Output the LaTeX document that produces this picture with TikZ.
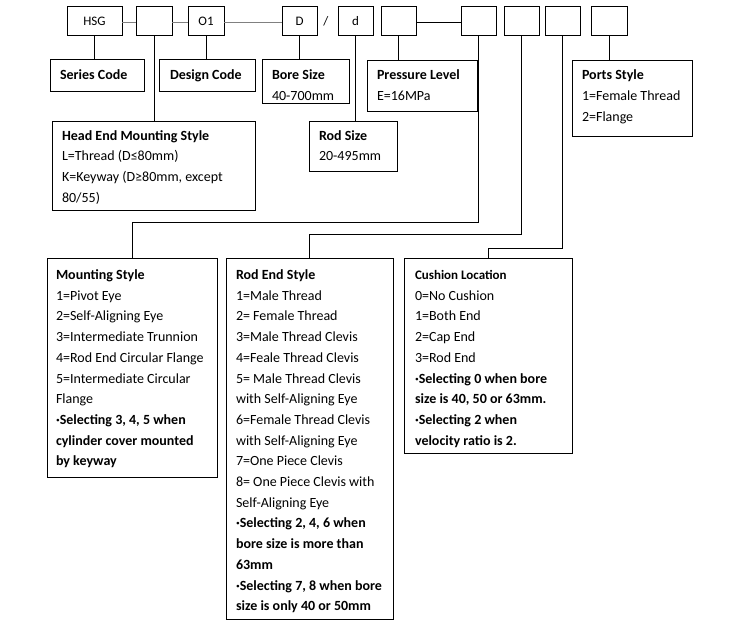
\documentclass[tikz,border=0pt]{standalone}
\usepackage{fontspec}
\setmainfont{Carlito}
\newcommand{\mylines}[1]{\begin{tabular}[t]{@{}l@{}}#1\end{tabular}}
\begin{document}
\begin{tikzpicture}[x=1pt,y=-1pt,
  bx/.style={draw=black, line width=1pt, anchor=north west, inner sep=0pt, outer sep=0pt, minimum height=29pt},
  code/.style={font=\fontsize{13}{15}\selectfont},
  txt/.style={anchor=base west, inner sep=0pt, outer sep=0pt, font=\fontsize{14}{20.7}\selectfont},
  gline/.style={draw=black!50, line width=1.8pt},
  conn/.style={draw=black, line width=1pt}]
\useasboundingbox[fill=white] (0,0) rectangle (752,642);

% top code row
\node[bx, code, minimum width=55pt] (hsg) at (67,7) {HSG};
\node[bx, code, minimum width=36pt] (b1) at (136,7) {};
\node[bx, code, minimum width=36pt] (o1) at (188,7) {O1};
\node[bx, code, minimum width=35pt] (bd) at (282,7) {D};
\node[code] (slash) at (326,21.5) {/};
\node[bx, code, minimum width=35pt] (sd) at (338,7) {d};
\node[bx, code, minimum width=35pt] (pb) at (381,7) {};
\node[bx, code, minimum width=35pt] (m1) at (461,7) {};
\node[bx, code, minimum width=35pt] (m2) at (504,7) {};
\node[bx, code, minimum width=35pt] (m3) at (545,7) {};
\node[bx, code, minimum width=36pt] (pt) at (591,7) {};

\draw[gline] ([yshift=-1pt]hsg.east) -- ([yshift=-1pt]b1.west);
\draw[gline] ([yshift=-1pt]b1.east) -- ([yshift=-1pt]o1.west);
\draw[gline] ([yshift=-1pt]o1.east) -- ([yshift=-1pt]bd.west);
\draw[conn] ([yshift=-1.5pt]pb.east) -- ([yshift=-1.5pt]m1.west);

% description boxes
\node[bx, minimum width=94pt, minimum height=31pt] (series) at (50,60) {};
\node[bx, minimum width=96pt, minimum height=31pt] (design) at (159,60) {};
\node[bx, minimum width=87pt, minimum height=43pt] (bore) at (262,60) {};
\node[bx, minimum width=110pt, minimum height=50pt] (press) at (367,61) {};
\node[bx, minimum width=120pt, minimum height=75pt] (ports) at (572,61) {};
\node[bx, minimum width=88pt, minimum height=50pt] (rodsize) at (309,121) {};
\node[bx, minimum width=203pt, minimum height=89pt] (head) at (52,121) {};
\node[bx, minimum width=170pt, minimum height=219pt] (mount) at (47,258) {};
\node[bx, minimum width=167pt, minimum height=361pt] (rodend) at (226,258) {};
\node[bx, minimum width=168pt, minimum height=195pt] (cushion) at (404,258) {};

% texts
\node[txt] (series-t) at (60,79) {\textbf{Series Code}};
\node[txt] (design-t) at (170,79) {\textbf{Design Code}};
\node[txt] (bore-t) at (272,80) {\mylines{\textbf{Bore Size}\\40-700mm}};
\node[txt] (press-t) at (377,80) {\mylines{\textbf{Pressure Level}\\E=16MPa}};
\node[txt] (ports-t) at (582,80) {\mylines{\textbf{Ports Style}\\1=Female Thread\\2=Flange}};
\node[txt] (rodsize-t) at (319,140) {\mylines{\textbf{Rod Size}\\20-495mm}};
\node[txt] (head-t) at (62,140) {\mylines{\textbf{Head End Mounting Style}\\L=Thread (D≤80mm)\\K=Keyway (D≥80mm, except\\80/55)}};
\node[txt] (mount-t) at (56,279.5) {\mylines{\textbf{Mounting Style}\\1=Pivot Eye\\2=Self-Aligning Eye\\3=Intermediate Trunnion\\4=Rod End Circular Flange\\5=Intermediate Circular\\Flange\\\textbf{·Selecting 3, 4, 5 when}\\\textbf{cylinder cover mounted}\\\textbf{by keyway}}};
\node[txt] (rodend-t) at (236,279.5) {\mylines{\textbf{Rod End Style}\\1=Male Thread\\2= Female Thread\\3=Male Thread Clevis\\4=Feale Thread Clevis\\5= Male Thread Clevis\\with Self-Aligning Eye\\6=Female Thread Clevis\\with Self-Aligning Eye\\7=One Piece Clevis\\8= One Piece Clevis with\\Self-Aligning Eye\\\textbf{·Selecting 2, 4, 6 when}\\\textbf{bore size is more than}\\\textbf{63mm}\\\textbf{·Selecting 7, 8 when bore}\\\textbf{size is only 40 or 50mm}}};
\node[txt] (cushion-t) at (415,279.5) {\mylines{{\fontsize{13}{20.7}\selectfont\textbf{Cushion Location}}\\0=No Cushion\\1=Both End\\2=Cap End\\3=Rod End\\\textbf{·Selecting 0 when bore}\\\textbf{size is 40, 50 or 63mm.}\\\textbf{·Selecting 2 when}\\\textbf{velocity ratio is 2.}}};

% connectors
\draw[conn] (hsg.south) -- (hsg.south |- series.north);
\draw[conn] (o1.south) -- (o1.south |- design.north);
\draw[conn] (bd.south) -- (bd.south |- bore.north);
\draw[conn] (pb.south) -- (pb.south |- press.north);
\draw[conn] (pt.south) -- (pt.south |- ports.north);
\draw[conn] (b1.south) -- (b1.south |- head.north);
\draw[conn] (sd.south) -- (sd.south |- rodsize.north);
\draw[conn] (m1.south) -- ++(0,186) -| (mount.north);
\draw[conn] (m2.south) -- ++(0,198) -| (rodend.north);
\draw[conn] (m3.south) -- ++(0,212) -| (cushion.north);
\end{tikzpicture}
\end{document}
